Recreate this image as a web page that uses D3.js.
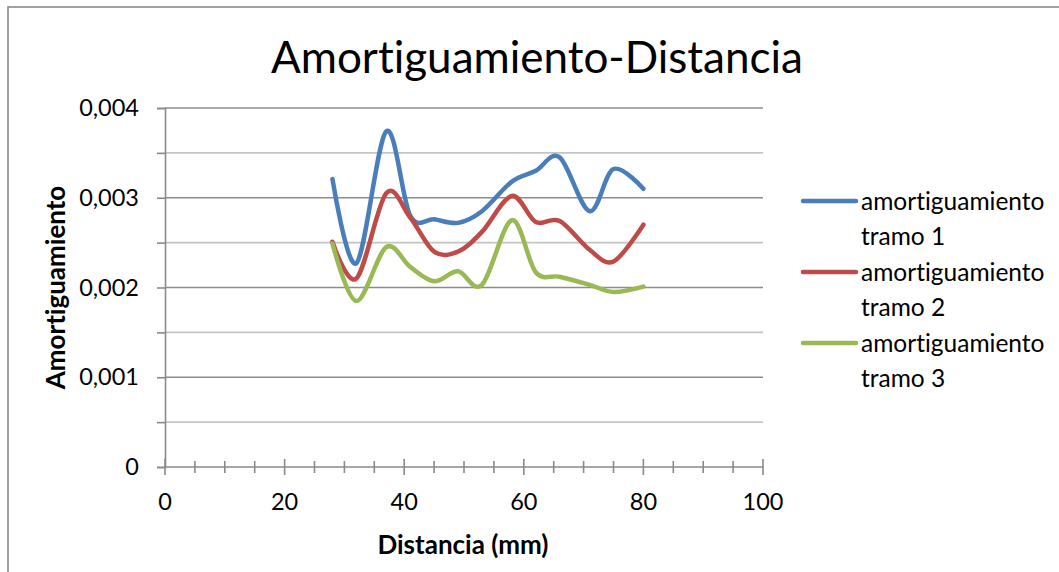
<!DOCTYPE html>
<html>
<head>
<meta charset="utf-8">
<script src="https://cdn.jsdelivr.net/npm/d3@7"></script>
<style>
    body { margin: 0; background: #fff; }
    svg { display: block; font-family: Lato, "Open Sans", sans-serif; font-variant-ligatures: none; }
</style>
</head>
<body>
<div id="chart"></div>
<script>
// distance (mm) of every measurement
const distances = [28, 32, 37, 41, 45, 49, 53, 58, 62, 66, 71, 75, 80];

const tramo1 = [0.00321, 0.00227, 0.00374, 0.00280, 0.00276, 0.00272, 0.00285, 0.00318, 0.00330, 0.00345, 0.00285, 0.00332, 0.00310];
const tramo2 = [0.00251, 0.00210, 0.00305, 0.00278, 0.00240, 0.00240, 0.00262, 0.00302, 0.00273, 0.00274, 0.00242, 0.00229, 0.00270];
const tramo3 = [0.00249, 0.00185, 0.00245, 0.00223, 0.00207, 0.00218, 0.00203, 0.00275, 0.00217, 0.00212, 0.00203, 0.00195, 0.00201];

const seriesNames = ["amortiguamiento tramo 1", "amortiguamiento tramo 2", "amortiguamiento tramo 3"];
const seriesColors = ["#4a7ebb", "#be4b48", "#98b954"];

const xTicks = [0, 20, 40, 60, 80, 100];
const yTicks = [0, 0.001, 0.002, 0.003, 0.004];

const W = 1059, H = 572;
const plot = { left: 165, right: 763, top: 108, bottom: 467 };

const svg = d3.select("#chart")
    .append("svg")
    .attr("width", W)
    .attr("height", H);

// outer chart frame (only top and left edges show)
svg.append("rect")
    .attr("x", 8).attr("y", 7)
    .attr("width", W + 20).attr("height", H + 20)
    .attr("fill", "#fff")
    .attr("stroke", "#8a8a8a")
    .attr("stroke-width", 1.6);

const xScale = d3.scaleLinear().domain([0, 100]).range([plot.left, plot.right]);
const yScale = d3.scaleLinear().domain([0, 0.004]).range([plot.bottom, plot.top]);

// horizontal gridlines, every 0.0005
const gridVals = d3.range(0, 0.00401, 0.0005);
svg.append("g")
    .selectAll("line")
    .data(gridVals.slice(1))
    .enter()
    .append("line")
    .attr("x1", plot.left)
    .attr("x2", plot.right)
    .attr("y1", (d) => yScale(d))
    .attr("y2", (d) => yScale(d))
    .attr("stroke", (d, i) => (i % 2 === 1 ? "#8c8c8c" : "#c4c4c4"))
    .attr("stroke-width", 1.6);

// y axis
const yAxis = svg.append("g")
    .attr("transform", `translate(${plot.left},0)`)
    .call(d3.axisLeft(yScale).tickValues(gridVals).tickSize(8).tickFormat(""));
yAxis.selectAll("line, path").attr("stroke", "#8a8a8a").attr("stroke-width", 1.6);

svg.append("g")
    .selectAll("text")
    .data(yTicks)
    .enter()
    .append("text")
    .attr("x", 139)
    .attr("y", (d) => yScale(d))
    .attr("dy", "0.35em")
    .attr("text-anchor", "end")
    .style("font-size", "23.5px")
    .style("fill", "#000")
    .text((d) => (d === 0 ? "0" : d3.format(".3f")(d).replace(".", ",")));

// x axis, cross ticks every 5
const xAxis = svg.append("g")
    .attr("transform", `translate(0,${plot.bottom})`);
xAxis.append("line")
    .attr("x1", plot.left).attr("x2", plot.right)
    .attr("stroke", "#8a8a8a").attr("stroke-width", 1.6);
xAxis.selectAll(".tick")
    .data(d3.range(0, 101, 5))
    .enter()
    .append("line")
    .attr("x1", (d) => xScale(d))
    .attr("x2", (d) => xScale(d))
    .attr("y1", (d) => (d % 20 === 0 ? -8 : -6))
    .attr("y2", (d) => (d % 20 === 0 ? 8 : 6))
    .attr("stroke", "#8a8a8a")
    .attr("stroke-width", 1.6);

svg.append("g")
    .selectAll("text")
    .data(xTicks)
    .enter()
    .append("text")
    .attr("x", (d) => xScale(d))
    .attr("y", 502)
    .attr("dy", "0.35em")
    .attr("text-anchor", "middle")
    .style("font-size", "23.5px")
    .text((d) => d);

// lines (Excel smoothed)
const line = d3.line()
    .x((d) => xScale(d[0]))
    .y((d) => yScale(d[1]))
    .curve(d3.curveCardinal.tension(0));

[tramo1, tramo2, tramo3].forEach((vals, i) => {
    svg.append("path")
        .datum(distances.map((x, j) => [x, vals[j]]))
        .attr("d", line)
        .attr("fill", "none")
        .attr("stroke", seriesColors[i])
        .attr("stroke-width", 4.5)
        .attr("stroke-linecap", "round")
        .attr("stroke-linejoin", "round");
});

// titles
svg.append("text")
    .attr("x", 537)
    .attr("y", 73)
    .attr("text-anchor", "middle")
    .style("font-size", "44px")
    .text("Amortiguamiento-Distancia");

svg.append("text")
    .attr("x", 463)
    .attr("y", 545)
    .attr("dy", "0.35em")
    .attr("text-anchor", "middle")
    .style("font-size", "26px")
    .style("font-weight", "bold")
    .text("Distancia (mm)");

svg.append("text")
    .attr("transform", `translate(56,${(plot.top + plot.bottom) / 2}) rotate(-90)`)
    .attr("dy", "0.35em")
    .attr("text-anchor", "middle")
    .style("font-size", "26px")
    .style("font-weight", "bold")
    .text("Amortiguamiento");

// legend
const legend = svg.append("g")
    .selectAll("g")
    .data(seriesNames)
    .enter()
    .append("g")
    .attr("transform", (d, i) => `translate(0,${201 + i * 71})`);

legend.append("line")
    .attr("x1", 803).attr("x2", 856)
    .attr("stroke", (d, i) => seriesColors[i])
    .attr("stroke-width", 4.5)
    .attr("stroke-linecap", "round");

legend.each(function (d) {
    const words = d.split(" ");
    const t = d3.select(this).append("text")
        .style("font-size", "24.5px");
    t.append("tspan").attr("x", 861).attr("y", 0).attr("dy", "0.35em").text(words[0]);
    t.append("tspan").attr("x", 861).attr("y", 35).attr("dy", "0.35em").text(words.slice(1).join(" "));
});
</script>
</body>
</html>
